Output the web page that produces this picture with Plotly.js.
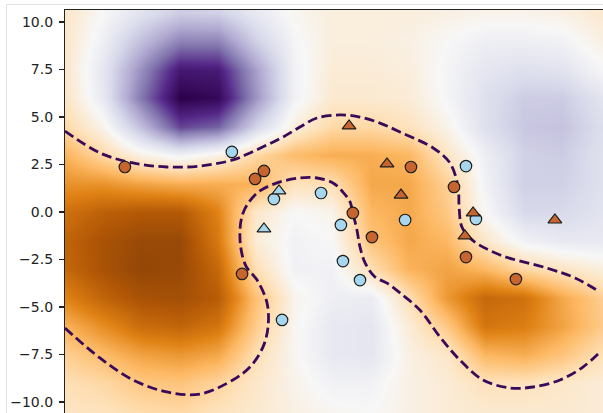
<!DOCTYPE html>
<html>
<head>
<meta charset="utf-8">
<script src="https://cdn.plot.ly/plotly-3.0.1.min.js"></script>
<style>
  html, body { margin: 0; padding: 0; width: 603px; height: 413px; overflow: hidden; background: #fff; }
  #chart { position: absolute; left: 0; top: 0; width: 623px; height: 441px; }
  #frame { position: absolute; left: 6px; top: 4px; width: 700px; height: 500px;
           border-left: 1px solid #e2e2e2; border-top: 1px solid #e2e2e2;
           pointer-events: none; z-index: 5; }
</style>
</head>
<body>
<div id="chart"></div>
<div id="frame"></div>
<script>
// Decision-surface grid (colour level on the PuOr scale: 0 = brown/orange, 0.5 = white, 1 = purple)
const gridX = [-10.5, -9, -7.5, -6, -4.5, -3, -1.5, 0, 1.5, 3, 4.5, 6, 7.5, 9, 10.5];
const gridY = [10.5, 9, 7.5, 6, 4.5, 3, 1.5, 0, -1.5, -3, -4.5, -6, -7.5, -9, -10.5];
const surface = [
  [0.43,0.50,0.57,0.63,0.62,0.55,0.49,0.46,0.46,0.46,0.47,0.48,0.48,0.47,0.44],
  [0.43,0.53,0.66,0.77,0.77,0.62,0.51,0.46,0.46,0.47,0.50,0.53,0.53,0.52,0.47],
  [0.43,0.56,0.75,0.94,0.93,0.72,0.52,0.45,0.45,0.46,0.51,0.56,0.58,0.57,0.51],
  [0.42,0.55,0.79,1.00,0.98,0.74,0.52,0.44,0.44,0.45,0.51,0.58,0.63,0.63,0.57],
  [0.38,0.48,0.66,0.86,0.82,0.61,0.46,0.38,0.38,0.41,0.48,0.58,0.64,0.65,0.59],
  [0.29,0.38,0.47,0.52,0.47,0.38,0.31,0.28,0.28,0.30,0.42,0.53,0.62,0.63,0.58],
  [0.23,0.23,0.26,0.28,0.28,0.29,0.41,0.40,0.27,0.27,0.36,0.52,0.62,0.62,0.58],
  [0.16,0.12,0.10,0.10,0.20,0.43,0.50,0.48,0.30,0.27,0.34,0.50,0.60,0.60,0.57],
  [0.13,0.08,0.05,0.05,0.18,0.45,0.52,0.50,0.33,0.27,0.30,0.43,0.52,0.55,0.55],
  [0.14,0.08,0.04,0.05,0.14,0.40,0.52,0.52,0.40,0.29,0.26,0.30,0.38,0.42,0.46],
  [0.20,0.13,0.08,0.07,0.11,0.32,0.48,0.53,0.54,0.40,0.24,0.14,0.16,0.27,0.35],
  [0.29,0.22,0.15,0.13,0.17,0.35,0.49,0.55,0.56,0.45,0.34,0.17,0.19,0.26,0.34],
  [0.36,0.31,0.26,0.24,0.27,0.40,0.49,0.55,0.56,0.47,0.43,0.30,0.28,0.33,0.40],
  [0.40,0.38,0.34,0.33,0.37,0.43,0.48,0.52,0.52,0.47,0.45,0.41,0.41,0.43,0.45],
  [0.42,0.41,0.39,0.38,0.41,0.44,0.47,0.49,0.50,0.47,0.45,0.44,0.44,0.44,0.45]
];

// Zero-level boundary, two branches
const upperX = [-10.5,-9.13,-7.83,-6.50,-5.20,-3.91,-3.24,-2.57,-1.94,-1.28,-0.61,0.29,1.08,1.86,2.65,3.95,4.61,4.93,4.97,5.08,5.48,6.58,8.42,9.52,10.5];
const upperY = [4.26,3.11,2.58,2.37,2.42,2.74,3.11,3.53,3.95,4.47,4.95,5.11,5.00,4.68,4.21,3.37,2.58,1.32,0.26,-0.79,-1.47,-2.26,-2.95,-3.47,-4.21];
const lowerX = [-10.5,-9.13,-7.83,-6.50,-5.20,-3.91,-3.24,-2.73,-2.53,-2.57,-2.96,-3.40,-3.63,-3.51,-2.96,-2.18,-1.28,-0.61,0.02,0.41,0.69,0.80,0.96,1.08,1.28,1.67,2.14,2.65,3.43,4.22,5.00,5.91,6.97,7.87,8.93,9.83,10.5];
const lowerY = [-6.11,-7.68,-8.84,-9.47,-9.58,-8.84,-8.16,-7.11,-6.05,-4.79,-3.58,-2.84,-1.47,-0.05,1.00,1.53,1.79,1.79,1.53,1.05,0.53,-0.05,-0.95,-1.84,-2.68,-3.42,-3.74,-4.26,-5.16,-6.58,-7.79,-8.84,-9.26,-9.21,-8.84,-8.16,-7.37];

// Samples: class A (orange) and class B (blue), circles and triangles
const aCircleX = [-8.15,-3.04,-2.69,0.80,1.55,-3.55,3.08,4.77,5.24,7.20];
const aCircleY = [2.37,1.74,2.16,-0.05,-1.32,-3.26,2.37,1.32,-2.37,-3.53];
const bCircleX = [-3.95,-2.30,-0.45,0.33,0.41,1.08,-1.98,2.85,5.24,5.63];
const bCircleY = [3.16,0.68,1.00,-0.68,-2.58,-3.58,-5.68,-0.42,2.42,-0.37];
const aTriX = [0.65,2.14,2.69,5.52,5.20,8.73];
const aTriY = [4.53,2.53,0.89,-0.05,-1.26,-0.42];
const bTriX = [-2.10,-2.69];
const bTriY = [1.11,-0.89];

const yTicks = [-10, -7.5, -5, -2.5, 0, 2.5, 5, 7.5, 10];
const yTickText = ['\u221210.0','\u22127.5','\u22125.0','\u22122.5','0.0','2.5','5.0','7.5','10.0'];

const puor = [
  [0.0,'#7f3b08'],[0.1,'#b35806'],[0.2,'#e08214'],[0.3,'#fdb863'],[0.4,'#fee0b6'],
  [0.5,'#f7f7f7'],[0.6,'#d8daeb'],[0.7,'#b2abd2'],[0.8,'#8073ac'],[0.9,'#542788'],[1.0,'#2d004b']
];

const orange = '#c8652f';
const blue = '#a7d7ee';
const edge = '#1e1e1e';
const lineStyle = {color: '#3a0a5a', width: 2.8, dash: '10px,4.5px', shape: 'spline', smoothing: 1};

const traces = [
  {type: 'heatmap', x: gridX, y: gridY, z: surface, colorscale: puor, zmin: 0, zmax: 1,
   zsmooth: 'best', showscale: false, hoverinfo: 'skip'},
  {type: 'scatter', mode: 'lines', x: upperX, y: upperY, line: lineStyle, hoverinfo: 'skip'},
  {type: 'scatter', mode: 'lines', x: lowerX, y: lowerY, line: lineStyle, hoverinfo: 'skip'},
  {type: 'scatter', mode: 'markers', x: aCircleX, y: aCircleY,
   marker: {symbol: 'circle', size: 11.5, color: orange, line: {color: edge, width: 1.2}}},
  {type: 'scatter', mode: 'markers', x: bCircleX, y: bCircleY,
   marker: {symbol: 'circle', size: 11.5, color: blue, line: {color: edge, width: 1.2}}},
  {type: 'scatter', mode: 'markers', x: aTriX, y: aTriY,
   marker: {symbol: 'triangle-up', size: 12, color: orange, line: {color: edge, width: 1.2}}},
  {type: 'scatter', mode: 'markers', x: bTriX, y: bTriY,
   marker: {symbol: 'triangle-up', size: 12, color: blue, line: {color: edge, width: 1.2}}}
];

const layout = {
  width: 623, height: 441,
  margin: {l: 65, r: 10, t: 10, b: 10},
  paper_bgcolor: '#ffffff', plot_bgcolor: '#ffffff',
  showlegend: false,
  font: {family: 'DejaVu Sans, sans-serif', size: 14, color: '#222'},
  xaxis: {range: [-10.5, 11.011], showgrid: false, zeroline: false, showticklabels: false,
          ticks: '', showline: true, linecolor: '#222', linewidth: 1.1, mirror: true},
  yaxis: {range: [-11.526, 10.632], showgrid: false, zeroline: false,
          tickvals: yTicks, ticktext: yTickText, ticks: 'outside', ticklen: 5, tickwidth: 1.1,
          ticklabelstandoff: 3,
          tickcolor: '#222', showline: true, linecolor: '#222', linewidth: 1.1, mirror: true}
};

Plotly.newPlot('chart', traces, layout, {staticPlot: true, displayModeBar: false});
</script>
</body>
</html>
